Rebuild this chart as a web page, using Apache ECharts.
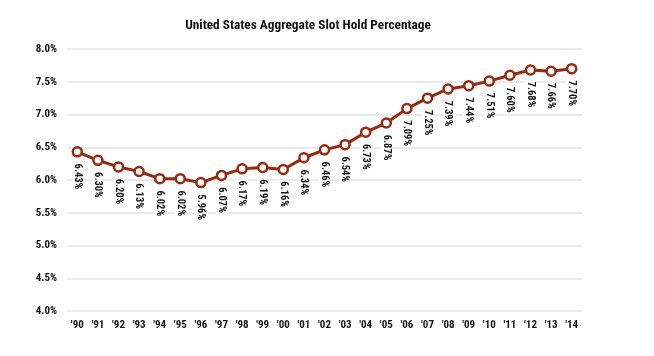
<!DOCTYPE html>
<html>
<head>
<meta charset="utf-8">
<script src="https://cdn.jsdelivr.net/npm/echarts@6/dist/echarts.min.js"></script>
<style>html,body{margin:0;padding:0;background:#fff}#c{width:654px;height:356px}</style>
</head>
<body>
<div id="c"></div>
<script>
var categories = ["'90","'91","'92","'93","'94","'95","'96","'97","'98","'99","'00","'01","'02","'03","'04","'05","'06","'07","'08","'09","'10","'11","'12","'13","'14"];
var holdPct = [6.43, 6.30, 6.20, 6.13, 6.02, 6.02, 5.96, 6.07, 6.17, 6.19, 6.16, 6.34, 6.46, 6.54, 6.73, 6.87, 7.09, 7.25, 7.39, 7.44, 7.51, 7.60, 7.68, 7.66, 7.70];
var yTicks = [4.0, 4.5, 5.0, 5.5, 6.0, 6.5, 7.0, 7.5, 8.0];

var FONT = "Roboto, 'Liberation Sans', Arial, sans-serif";
var TXT = {fontFamily: FONT, fontStyle: 'condensed', fontWeight: 'bold', color: '#111'};
function txt(size, extra) { return Object.assign({}, TXT, {fontSize: size}, extra || {}); }

var chart = echarts.init(document.getElementById('c'), null, {renderer: 'canvas'});
chart.setOption({
  animation: false,
  backgroundColor: '#fff',
  title: {
    text: 'United States Aggregate Slot Hold Percentage',
    left: 303, top: 14, textAlign: 'center',
    textStyle: txt(13.3)
  },
  grid: {left: 67, right: 72, top: 49, bottom: 45},
  xAxis: {
    type: 'category',
    data: categories,
    boundaryGap: true,
    axisLine: {show: false},
    axisTick: {show: false},
    axisLabel: txt(11, {margin: 9})
  },
  yAxis: {
    type: 'value',
    min: yTicks[0], max: yTicks[yTicks.length - 1], interval: 0.5,
    axisLine: {show: false},
    axisTick: {show: false},
    splitLine: {lineStyle: {color: '#e3e3e3', width: 1.5}},
    axisLabel: txt(11, {margin: 10, formatter: function (v) { return v.toFixed(1) + '%'; }})
  },
  series: [{
    type: 'line',
    data: holdPct,
    symbol: 'circle',
    symbolSize: 9,
    showAllSymbol: true,
    lineStyle: {color: '#952a10', width: 3},
    itemStyle: {color: '#fff', borderColor: '#952a10', borderWidth: 2.5},
    label: txt(10.5, {
      show: true,
      position: 'bottom',
      distance: 5,
      rotate: -90,
      align: 'left',
      verticalAlign: 'middle',
      backgroundColor: '#fff',
      padding: [0, 1],
      formatter: function (p) { return p.value.toFixed(2) + '%'; }
    })
  }]
});
</script>
</body>
</html>
